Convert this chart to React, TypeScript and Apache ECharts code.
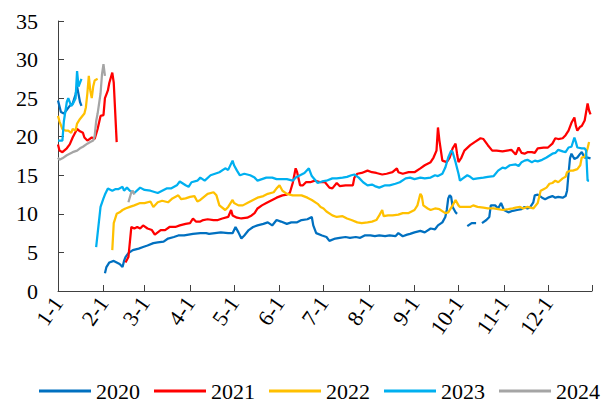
import React, { useEffect, useRef } from "react";
import * as echarts from "echarts";

const monthDays = [31, 28, 31, 30, 31, 30, 31, 31, 30, 31, 30, 31];
const categories: string[] = [];
const monthStarts: number[] = [];
monthDays.forEach((n, m) => {
  monthStarts.push(categories.length);
  for (let d = 1; d <= n; d++) categories.push(`${m + 1}-${d}`);
});
const lastIdx = categories.length - 1;

const yTicks = { min: 0, max: 35, interval: 5 };
const years = ["2020", "2021", "2022", "2023", "2024"];
const colors = ["#0070C0", "#FF0000", "#FFC000", "#00B0F0", "#A5A5A5"];

type Pt = [number, number | null];

const s2020: Pt[] = [
  [0, 24.7], [2, 23.2], [4, 23], [6, 23.5], [8, 24], [10, 24.3], [12, 25.5], [13, 26.5], [15, 24.5], [16, 24], [17, null],
  [32, 2.3], [33, 3.1], [35, 3.7], [38, 3.9], [40, 3.7], [42, 3.5], [44, 3.1], [45, 3.9], [46, 4.4], [48, 4.9], [51, 5.3],
  [55, 5.5], [58, 5.7], [61, 5.9], [65, 6.2], [68, 6.3], [72, 6.4], [75, 6.8], [79, 7], [82, 7.2], [86, 7.2], [89, 7.3],
  [92, 7.4], [97, 7.5], [101, 7.5], [103, 7.4], [107, 7.5], [111, 7.6], [116, 7.5], [119, 7.5], [121, 8.3], [123, 7.6],
  [125, 6.8], [127, 7.2], [130, 7.9], [133, 8.3], [136, 8.5], [140, 8.7], [143, 8.9], [146, 8.5], [149, 9.2], [152, 9],
  [156, 8.7], [159, 8.9], [163, 8.9], [166, 9.2], [170, 9.3], [173, 9.6], [174, 8.5], [176, 7.5], [180, 7.2], [183, 7],
  [185, 6.5], [189, 6.8], [192, 6.9], [196, 7], [199, 6.9], [203, 7], [206, 6.9], [209, 7.2], [213, 7.2], [216, 7.1],
  [219, 7.2], [223, 7.1], [226, 7.2], [230, 7.1], [232, 7.5], [235, 7.1], [238, 7.3], [240, 7.4], [243, 7.6], [247, 7.8],
  [250, 7.6], [254, 8.1], [257, 8], [259, 8.5], [262, 8.9], [264, 9.6], [265, 10.5], [266, 12], [267, 12.4], [268, 12.2],
  [269, 10.9], [271, 10.2], [272, 10], [273, null],
  [279, 8.4], [282, 8.8], [285, 8.8], [286, null],
  [289, 8.8], [292, 9.2], [294, 9.6], [295, 11.1], [298, 11.1], [300, 10.7], [302, 11.4], [304, 10.5], [307, 10.2],
  [310, 10.4], [313, 10.5], [316, 10.6], [318, 10.9], [320, 10.7], [322, 10.9], [324, 11.5], [325, 12.4], [327, 12.5],
  [330, 12.1], [332, 11.9], [334, 12.1], [337, 12.3], [339, 12.1], [341, 12.2], [344, 12.1], [346, 12.3], [347, 13],
  [348, 15.2], [349, 17.2], [350, 17.8], [352, 17.1], [354, 17.3], [356, 17.8], [357, 18], [359, 17.3], [361, 17.3], [363, 17.2],
];

const s2021: Pt[] = [
  [0, 19], [1, 18.2], [3, 18], [6, 18.5], [8, 19], [10, 19.9], [13, 21], [15, 20.7], [17, 20.5], [18, 19.9], [20, 19.5],
  [23, 19.9], [25, 19.7], [27, 21], [29, 22.7], [31, 22.8], [32, 25], [33, 25.5], [34, 26], [35, 27], [37, 28.3], [38, 27],
  [40, 19.3], [41, null],
  [46, 3.7], [48, 4.4], [50, 8.3], [52, 8.1], [54, 8.3], [56, 8.1], [58, 8.5], [61, 8.1], [64, 7.9], [66, 7.3], [70, 7.9],
  [73, 7.9], [76, 8.3], [80, 8.3], [83, 8.5], [87, 8.7], [90, 8.8], [92, 9.4], [94, 9.0], [97, 9], [99, 9.2], [102, 9.3],
  [106, 9.2], [109, 9.2], [112, 9.4], [116, 9.6], [118, 10.5], [119, 9.8], [122, 9.5], [125, 9.4], [129, 9.5], [132, 9.8],
  [134, 10.1], [136, 10.7], [139, 11.1], [142, 11.4], [146, 11.8], [149, 12.1], [153, 12.4], [156, 12.5], [158, 12.7],
  [160, 14], [162, 15.9], [163, 15.4], [165, 13.7], [167, 13.7], [169, 14.1], [172, 14.1], [175, 14.3], [179, 14.1],
  [182, 14.1], [185, 13.4], [187, 13.3], [190, 14], [192, 13.6], [196, 13.7], [199, 13.7], [201, 13.7], [202, 14.7],
  [204, 15.2], [207, 15.3], [211, 15.6], [214, 15.4], [217, 15.3], [221, 15.1], [224, 15.2], [228, 15.4], [231, 15.9],
  [232, 15.4], [235, 15.2], [239, 15.4], [243, 15.4], [247, 15.9], [250, 16.3], [254, 16.7], [256, 17.3], [258, 18.2],
  [259, 21.2], [260, 19.5], [262, 16.9], [265, 16.7], [267, 17.3], [269, 18.5], [271, 19.1], [272, 17.8], [273, 16.7],
  [275, 17.3], [277, 18.2], [281, 18.9], [284, 19.3], [288, 19.8], [290, 19.7], [293, 18.9], [296, 18.2], [299, 18.2],
  [303, 18.1], [306, 18.2], [309, 18.3], [312, 17.7], [314, 18.6], [316, 17.9], [318, 17.8], [320, 18], [323, 18],
  [325, 17.9], [327, 18.5], [331, 18.6], [334, 18.6], [337, 19.1], [339, 19.8], [341, 19.7], [344, 19.8], [346, 20.2],
  [348, 20.8], [350, 21.8], [352, 22.5], [353, 21.4], [354, 20.8], [356, 21.3], [357, 21.4], [359, 22.1], [361, 24.3],
  [362, 23.4], [363, 22.9],
];

const s2022: Pt[] = [
  [0, 22.7], [1, 22], [3, 21], [5, 20.8], [7, 20.8], [9, 20.5], [10, 21], [12, 20.8], [13, 21.7], [15, 22.3], [18, 23],
  [19, 23.8], [20, 25.6], [21, 27.9], [22, 26], [23, 25], [24, 26.5], [25, 27.3], [27, 27.5], [28, null],
  [37, 5.3], [38, 8.8], [40, 10], [42, 10.2], [44, 10.5], [46, 10.7], [49, 10.9], [52, 11.1], [56, 11.4], [59, 11.4],
  [63, 11.6], [65, 10.9], [68, 11.5], [71, 11.7], [75, 11.5], [78, 12], [82, 12.4], [84, 11.9], [87, 12], [90, 12.2],
  [93, 12.3], [95, 11.6], [97, 11.8], [102, 12.6], [106, 12.8], [108, 12.4], [110, 11.1], [114, 10.5], [116, 10.9],
  [119, 11.8], [120, 11.4], [123, 11.1], [126, 11.1], [130, 11.5], [133, 11.8], [136, 12.1], [140, 12.3], [143, 12.6],
  [147, 12.8], [149, 13.3], [151, 13.7], [153, 13], [156, 12.6], [160, 12.4], [163, 12.4], [166, 12.4], [170, 12.1],
  [173, 11.8], [177, 11.3], [179, 10.9], [181, 10.7], [183, 10.3], [187, 9.8], [190, 9.6], [194, 9.7], [197, 9.4],
  [200, 9.2], [204, 8.9], [207, 8.8], [211, 8.9], [214, 9], [217, 9.2], [219, 9.8], [221, 10.5], [222, 9.7], [225, 9.8],
  [228, 9.8], [232, 9.9], [235, 10.1], [239, 10.1], [243, 10.5], [245, 11.1], [247, 12.6], [248, 12.3], [249, 11.1],
  [252, 10.7], [254, 10.5], [257, 10.7], [260, 10.6], [264, 10.1], [266, 10.2], [269, 11.1], [271, 11.8], [273, 11.1],
  [274, 10.9], [277, 10.9], [281, 10.9], [283, 11.1], [286, 10.9], [290, 10.8], [293, 10.7], [297, 10.7], [300, 10.6],
  [303, 10.5], [307, 10.6], [310, 10.7], [312, 10.8], [315, 10.9], [317, 10.7], [320, 10.9], [324, 10.7], [327, 11.4],
  [329, 13], [331, 13.2], [333, 13.4], [335, 13.9], [337, 14], [339, 14.3], [341, 14.1], [344, 14.6], [346, 14.8],
  [347, 15.4], [349, 15.6], [351, 15.6], [354, 15.8], [356, 16.3], [357, 17.3], [359, 17.4], [361, 18.5], [362, 19.3],
];

const s2023: Pt[] = [
  [0, 19.5], [3, 19.5], [4, 22], [6, 24.5], [7, 25], [9, 24], [10, 24.2], [12, 25], [13, 28.5], [14, 26.5], [16, 27.5], [17, null],
  [26, 5.7], [29, 10.9], [31, 12], [32, 12.5], [34, 13.3], [37, 13], [39, 13.2], [41, 13.2], [44, 13.5], [45, 13],
  [47, 13.4], [49, 13], [52, 12.7], [56, 13.4], [59, 13.1], [63, 13], [68, 12.7], [71, 13], [74, 13.3], [77, 13.3],
  [81, 13.7], [83, 14.2], [87, 13.7], [89, 13.5], [91, 14.1], [95, 14.3], [97, 14.7], [100, 14.3], [104, 15], [107, 15.2],
  [110, 15.4], [114, 15.9], [116, 15.7], [119, 16.9], [120, 16.3], [122, 15.6], [124, 15], [127, 15.2], [131, 15],
  [134, 14.7], [136, 14.3], [139, 14.5], [142, 14.7], [146, 14.7], [149, 14.5], [153, 14.5], [156, 14.5], [160, 14.3],
  [162, 14.7], [165, 15], [167, 15.2], [168, 15.3], [171, 15.9], [173, 14.9], [177, 14], [180, 14.2], [183, 14.3],
  [187, 14.6], [190, 14.6], [194, 14.7], [197, 14.8], [200, 15], [202, 15.1], [205, 14.7], [208, 14.1], [211, 13.7],
  [214, 13.8], [216, 13.6], [219, 13.4], [223, 13.7], [226, 13.7], [230, 13.9], [233, 14.1], [237, 14.6], [240, 14.7],
  [243, 14.5], [247, 14.7], [250, 14.6], [254, 14.7], [257, 15], [259, 14.9], [262, 15.2], [264, 16], [266, 17.3],
  [268, 18.2], [269, 18], [271, 16.7], [273, 15.2], [274, 14.3], [276, 14.6], [279, 15], [281, 14.8], [283, 14.5],
  [286, 14.6], [290, 14.7], [293, 14.8], [297, 14.9], [300, 15.6], [303, 16], [305, 15.9], [308, 16.3], [312, 16.4],
  [314, 16.2], [316, 16.7], [318, 16.9], [320, 17], [323, 16.7], [325, 16.9], [327, 16.8], [330, 17], [333, 17.3],
  [337, 17.8], [339, 17.9], [341, 18.3], [344, 18.1], [346, 18], [348, 18.6], [350, 18.7], [352, 19.9], [353, 19.3],
  [354, 18.6], [357, 18.5], [359, 18.5], [360, 18.2], [361, 14.3], [362, 14.3],
];

const s2024: Pt[] = [
  [0, 17.3], [1, 17], [3, 17.2], [6, 17.6], [8, 17.8], [10, 18], [13, 18.2], [15, 18.5], [17, 18.7], [20, 19.1],
  [22, 19.3], [24, 19.5], [25, 20.1], [26, 22], [27, 23], [29, 25.6], [30, 28.1], [31, 29.4], [32, 27.9], [33, null],
  [48, 11.5], [50, 12.8], [51, 13], [52, 12.5],
];

const seriesData = [s2020, s2021, s2022, s2023, s2024];

const FONT = "Times New Roman, Liberation Serif, DejaVu Serif, serif";

export default function App() {
  const ref = useRef<HTMLDivElement>(null);
  useEffect(() => {
    if (!ref.current) return;
    const chart = echarts.init(ref.current, null, { renderer: "svg" });
    const startSet = new Set(monthStarts);
    chart.setOption({
      animation: false,
      backgroundColor: "#ffffff",
      textStyle: { fontFamily: FONT },
      grid: { left: 58, right: 23, top: 21, bottom: 114 },
      legend: {
        data: years,
        left: 34,
        top: 375,
        icon: "rect",
        itemWidth: 52,
        itemHeight: 3,
        itemGap: 14,
        textStyle: { fontFamily: FONT, fontSize: 22, color: "#000" },
      },
      xAxis: {
        type: "category",
        data: categories,
        boundaryGap: false,
        axisLine: { lineStyle: { color: "#404040", width: 1 } },
        axisTick: {
          inside: true,
          length: 6,
          interval: (i: number) => startSet.has(i) || i === lastIdx,
          lineStyle: { color: "#404040" },
        },
        axisLabel: {
          interval: (i: number) => startSet.has(i),
          rotate: 55,
          margin: 8,
          fontFamily: FONT,
          fontSize: 22,
          color: "#000",
        },
        splitLine: { show: false },
      },
      yAxis: {
        type: "value",
        min: yTicks.min,
        max: yTicks.max,
        interval: yTicks.interval,
        axisLine: { show: true, lineStyle: { color: "#404040", width: 1 } },
        axisTick: { show: true, inside: true, length: 6, lineStyle: { color: "#404040" } },
        axisLabel: { margin: 20, fontFamily: FONT, fontSize: 22, color: "#000" },
        splitLine: { show: false },
      },
      series: years.map((y, i) => ({
        name: y,
        type: "line",
        data: seriesData[i],
        symbol: "none",
        connectNulls: false,
        color: colors[i],
        lineStyle: { color: colors[i], width: 2.25 },
      })),
    });
    return () => chart.dispose();
  }, []);
  return (
    <div
      ref={ref}
      style={{ position: "fixed", left: 0, top: 0, width: 615, height: 405 }}
    />
  );
}
